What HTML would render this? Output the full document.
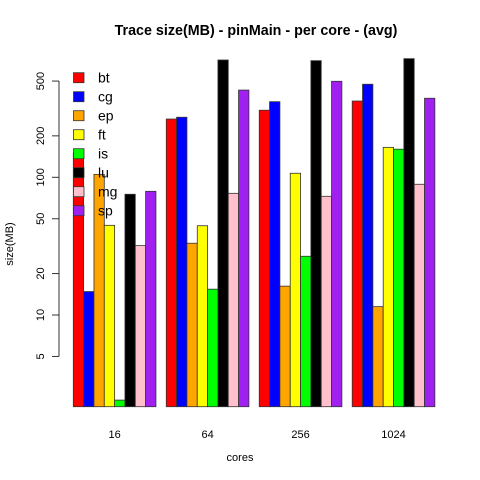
<!DOCTYPE html>
<html><head><meta charset="utf-8"><style>
html,body{margin:0;padding:0;background:#fff;}
svg{display:block;font-family:"Liberation Sans",sans-serif;}
</style></head><body>
<svg id="chart" width="480" height="480">
<text x="256" y="35" text-anchor="middle" font-size="14.3" font-weight="bold">Trace size(MB) - pinMain - per core - (avg)</text>
<text x="240" y="461" text-anchor="middle" font-size="11">cores</text>
<text transform="translate(13,244) rotate(-90)" text-anchor="middle" font-size="11">size(MB)</text>
<g id="axis"></g>
<g id="bars"></g>
<g id="xlabels"></g>
<g id="legend"></g>
</svg>
<script>
const categories = ["16","64","256","1024"];
const seriesNames = ["bt","cg","ep","ft","is","lu","mg","sp"];
const seriesColors = ["#ff0000","#0000ff","#ffa500","#ffff00","#00ff00","#000000","#ffc0cb","#a020f0"];
const bt = [150,265,307,358];
const cg = [14.8,273,354,474];
const ep = [105,33.2,16.2,11.5];
const ft = [44.8,44.5,107,165];
const is = [2.41,15.4,26.7,160];
const lu = [75.3,711,703,727];
const mg = [31.9,76.5,72.8,89];
const sp = [79.1,430,498,375];
const seriesValues = [bt,cg,ep,ft,is,lu,mg,sp];
const yTicks = [5,10,20,50,100,200,500];

const NS = "http://www.w3.org/2000/svg";
const baseY = 406.7;
function yScale(v){ return 315 - 137.7*Math.log10(v/10); }
const barW = 10.33, x0 = 73.3;
function xBar(g,s){ return x0 + g*(seriesNames.length+1)*barW + s*barW; }
function mk(tag, attrs, parent){ const e=document.createElementNS(NS,tag); for(const k in attrs) e.setAttribute(k,attrs[k]); parent.appendChild(e); return e; }

const axis = document.getElementById("axis");
const ax = mk("line",{x1:59,x2:59,y1:yScale(500),y2:yScale(5),stroke:"#333"},axis);


yTicks.forEach(t=>{
  const y=yScale(t);
  const tl = mk("line",{x1:52,x2:59,y1:y,y2:y,stroke:"#333"},axis);
  
  
  const tx = mk("text",{transform:`translate(44,${y}) rotate(-90)`,"text-anchor":"middle","font-size":"11"},axis);
  tx.textContent=t;
  
  
});

const bars = document.getElementById("bars");
categories.forEach((c,g)=>{
  seriesValues.forEach((vals,s)=>{
    const y=yScale(vals[g]);
    const r = mk("rect",{x:xBar(g,s),y:y,width:barW,height:baseY-y,fill:seriesColors[s],stroke:"#333","stroke-width":"0.8"},bars);
    
    
  });
  const lbl = mk("text",{x:xBar(g,0)+barW*seriesNames.length/2,y:438,"text-anchor":"middle","font-size":"11"},document.getElementById("xlabels"));
  lbl.textContent=c;
  
  
});

const legend = document.getElementById("legend");
seriesNames.forEach((n,i)=>{
  const cy = 77.7 + i*19;
  const b = mk("rect",{x:73.5,y:cy-5,width:10.5,height:10,fill:seriesColors[i],stroke:"#333","stroke-width":"0.8"},legend);
  
  
  const t = mk("text",{x:98,y:cy+5,"font-size":"14"},legend);
  t.textContent=n;
  
  
});
</script>
</body></html>
